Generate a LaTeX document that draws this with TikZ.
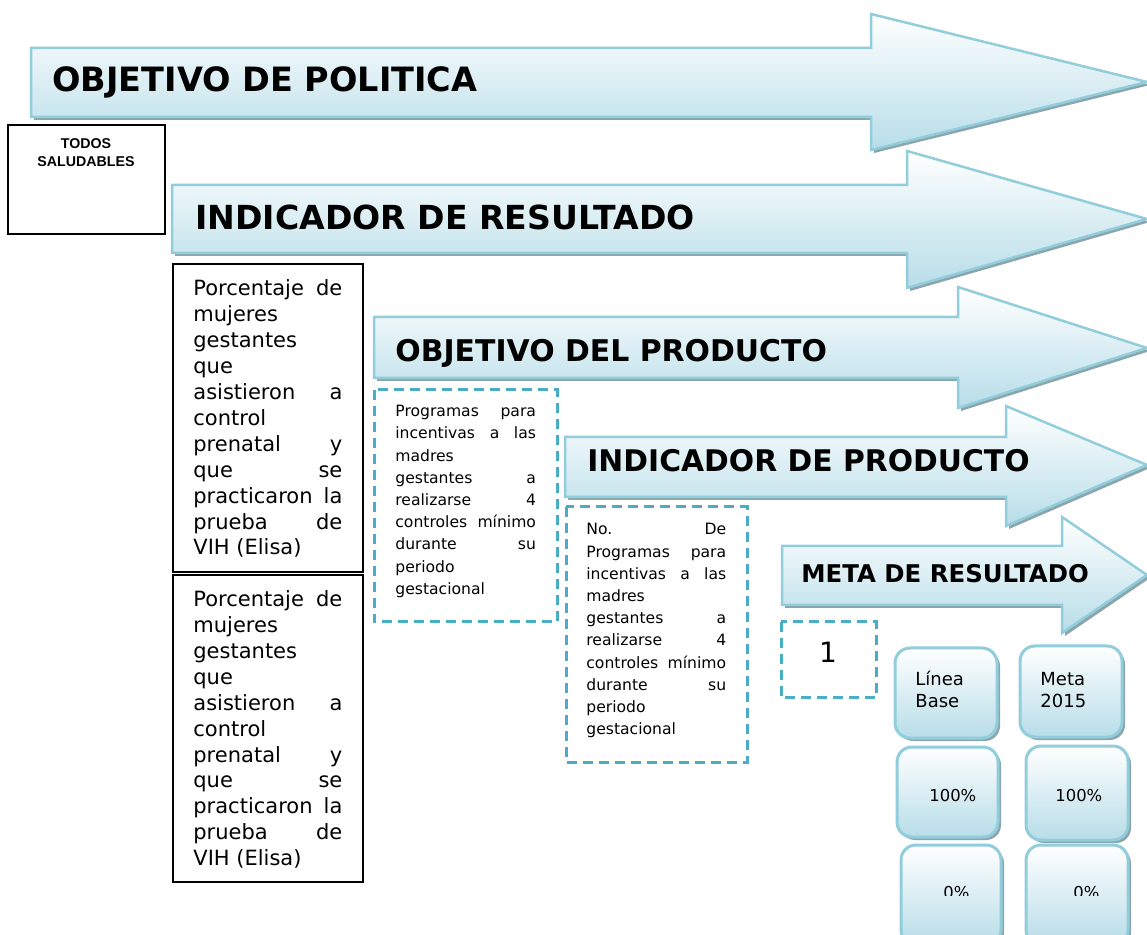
\documentclass[tikz,border=0pt]{standalone}
\usepackage{fontspec}
\setmainfont{DejaVu Sans}
\newfontfamily\arialfont{Liberation Sans}
\definecolor{aqline}{RGB}{146,205,220}
\definecolor{aqfill}{RGB}{183,221,232}
\definecolor{aqshadow}{RGB}{140,165,172}
\definecolor{dashblue}{RGB}{75,172,198}
\newcommand\drawbigarrow[7]{%
  \fill[aqshadow,shift={(3,3)}] (#1,#2) -- (#3,#2) -- (#3,#4) -- (1147,#5) -- (#3,#6) -- (#3,#7) -- (#1,#7) -- cycle;
  \draw[arrowbody] (#1,#2) -- (#3,#2) -- (#3,#4) -- (1147,#5) -- (#3,#6) -- (#3,#7) -- (#1,#7) -- cycle;}
\newcommand\drawrbox[4]{%
  \fill[aqshadow,rounded corners=7.5pt] (#1+3,#2+3) rectangle (#3+3,#4+3);
  \draw[rbox] (#1,#2) rectangle (#3,#4);}
\tikzset{
  arrowbody/.style={draw=aqline,line width=1.25pt,top color=white,bottom color=aqfill,line join=miter},
  rbox/.style={draw=aqline,line width=1.5pt,top color=white,bottom color=aqfill,rounded corners=7.5pt},
  blackbox/.style={draw=black,line width=1pt},
  dashbox/.style={draw=dashblue,line width=1.5pt,dash pattern=on 5pt off 3pt},
  txt/.style={anchor=base west,inner sep=0pt,text=black},
  title/.style={txt,font=\bfseries\fontsize{#1}{#1}\selectfont},
  bodytext/.style={txt,font=\fontsize{10.5}{12.95}\selectfont},
  smalltext/.style={txt,font=\fontsize{7.8}{11.1}\selectfont},
  rtext/.style={txt,font=\fontsize{9}{11.5}\selectfont},
  pcttext/.style={txt,font=\fontsize{8.2}{10}\selectfont},
}
\begin{document}
\begin{tikzpicture}[x=0.5pt,y=-0.5pt]
\useasboundingbox (0,0) rectangle (1147,935);
% arrow 1
\drawbigarrow{31}{48}{871}{14}{82}{150}{117}
\node[title=16.75] (t1) at (52,91.7) {OBJETIVO DE POLITICA};
% TODOS box
\draw[blackbox] (8,125) rectangle (165,234);
\node[anchor=base,inner sep=0pt,align=center,font=\arialfont\bfseries\fontsize{7.1}{8.85}\selectfont] (todos) at (86,166.7) {TODOS\\SALUDABLES};
% arrow 2
\drawbigarrow{172}{185}{907}{151}{219}{288}{253}
\node[title=16.55] (t2) at (195,229.3) {INDICADOR DE RESULTADO};
% black boxes
\draw[blackbox] (173,264) rectangle (363,572);
\draw[blackbox] (173,575) rectangle (363,882);
\node[bodytext] (ta) at (193,296) {\parbox[t]{74.5pt}{Porcentaje\hfill de\\mujeres\\gestantes\\que\\asistieron\hfill a\\control\\prenatal\hfill y\\que\hfill se\\practicaron\hfill la\\prueba\hfill de\\VIH (Elisa)}};
\node[bodytext] (tb) at (193,606.7) {\parbox[t]{74.5pt}{Porcentaje\hfill de\\mujeres\\gestantes\\que\\asistieron\hfill a\\control\\prenatal\hfill y\\que\hfill se\\practicaron\hfill la\\prueba\hfill de\\VIH (Elisa)}};
% arrow 3
\drawbigarrow{374}{317}{958}{287}{348}{408}{378}
\node[title=14.95] (t3) at (395,361.7) {OBJETIVO DEL PRODUCTO};
\draw[dashbox] (374,390) rectangle (557,622);
\node[smalltext] (d1) at (395,416.7) {\parbox[t]{70.3pt}{Programas\hfill para\\incentivas\hfill a\hfill las\\madres\\gestantes\hfill a\\realizarse\hfill 4\\controles\hfill mínimo\\durante\hfill su\\periodo\\gestacional}};
% arrow 4
\drawbigarrow{565}{437}{1006}{406}{465}{526}{497}
\node[title=14.9] (t4) at (587,471.7) {INDICADOR DE PRODUCTO};
\draw[dashbox] (566,507) rectangle (747,762);
\node[smalltext] (d2) at (586,535) {\parbox[t]{69.9pt}{No.\hfill De\\Programas\hfill para\\incentivas\hfill a\hfill las\\madres\\gestantes\hfill a\\realizarse\hfill 4\\controles\hfill mínimo\\durante\hfill su\\periodo\\gestacional}};
% arrow 5
\drawbigarrow{782}{546}{1062}{517}{575}{633}{605}
\node[title=12.2] (t5) at (801,582.3) {META DE RESULTADO};
\draw[dashbox] (781,622) rectangle (876,698);
\node[anchor=base,inner sep=0pt,font=\fontsize{14}{14}\selectfont] (one) at (828,662.3) {1};
% rounded boxes
\drawrbox{895}{648}{997}{738}
\drawrbox{1020}{646}{1122}{737}
\node[rtext] (lb) at (915,685) {\parbox[t]{40pt}{Línea\\Base}};
\node[rtext] (mt) at (1040,685) {\parbox[t]{40pt}{Meta\\2015}};
\drawrbox{897}{747}{998}{837}
\drawrbox{1026}{746}{1128}{840}
\node[pcttext] (p1) at (929,801.7) {100\%};
\node[pcttext] (p2) at (1055,801.7) {100\%};
\drawrbox{901}{845}{1001}{945}
\drawrbox{1026}{845}{1128}{945}
\begin{scope}
\clip (890,840) rectangle (1140,895);
\node[pcttext] (z1) at (943,898) {0\%};
\node[pcttext] (z2) at (1073,898) {0\%};
\end{scope}
\end{tikzpicture}
\end{document}
